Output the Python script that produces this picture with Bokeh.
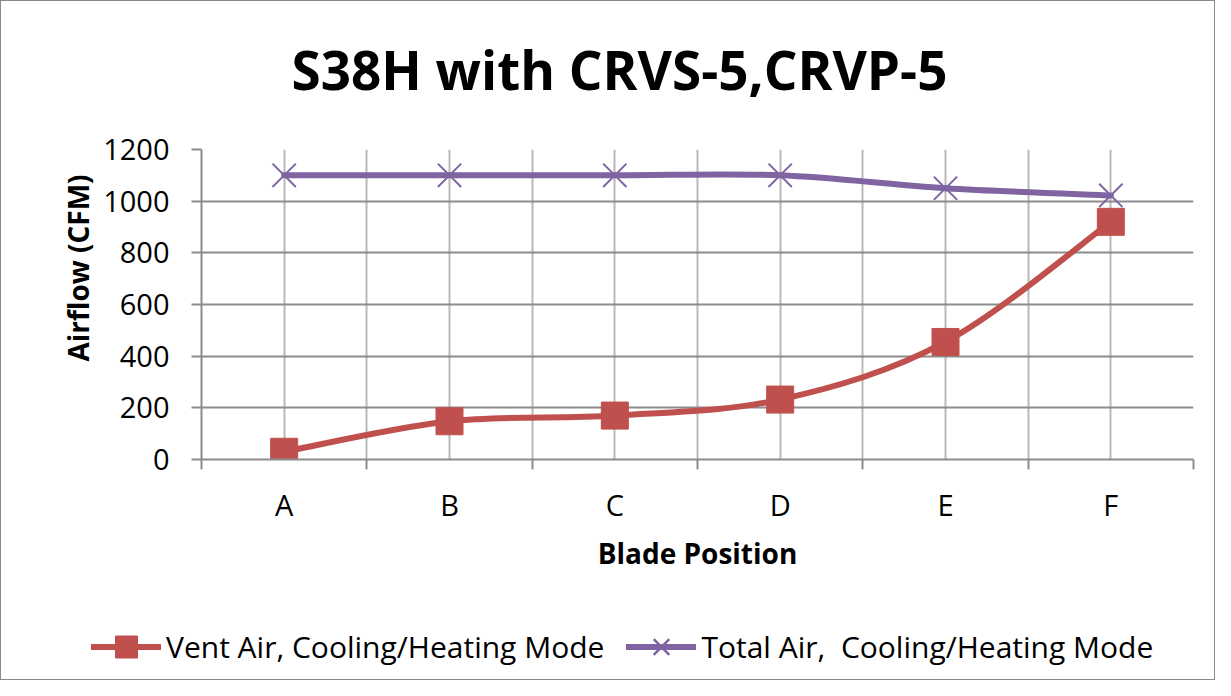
from bokeh.plotting import figure
from bokeh.layouts import column
from bokeh.models import FixedTicker, Title, Label, Legend, LegendItem, Range1d, ColumnDataSource
from bokeh.embed import file_html
from bokeh.resources import INLINE

# ---------------- data ----------------
categories = ["A", "B", "C", "D", "E", "F"]
vent_air = [30, 148, 170, 232, 455, 920]
total_air = [1100, 1100, 1100, 1100, 1050, 1022]
y_ticks = [0, 200, 400, 600, 800, 1000, 1200]
title_text = "S38H with CRVS-5,CRVP-5"
x_title = "Blade Position"
y_title = "Airflow (CFM)"
vent_name = "Vent Air, Cooling/Heating Mode"
total_name = "Total Air,  Cooling/Heating Mode"

FONT = "Open Sans"
RED = "#C0504D"
PURPLE = "#8064A2"
W = 1213
H_TOP, H_MAIN, H_LEG = 110, 490, 78

positions = [i + 1 for i in range(len(categories))]
boundaries = [i + 0.5 for i in range(len(categories) + 1)]


def smooth_segments(xs, ys):
    """Bezier segments (Excel-like smoothing) through the data points."""
    n = len(xs)
    seg = {k: [] for k in ("x0", "y0", "x1", "y1", "cx0", "cy0", "cx1", "cy1")}
    for i in range(n - 1):
        im, ip = max(i - 1, 0), min(i + 2, n - 1)
        seg["x0"].append(xs[i]); seg["y0"].append(ys[i])
        seg["x1"].append(xs[i + 1]); seg["y1"].append(ys[i + 1])
        seg["cx0"].append(xs[i] + (xs[i + 1] - xs[im]) / 6.0)
        seg["cy0"].append(ys[i] + (ys[i + 1] - ys[im]) / 6.0)
        seg["cx1"].append(xs[i + 1] - (xs[ip] - xs[i]) / 6.0)
        seg["cy1"].append(ys[i + 1] - (ys[ip] - ys[i]) / 6.0)
    return ColumnDataSource(seg)


def blank_fig(h):
    # frame covers the whole strip; ranges chosen so the series lie outside it
    f = figure(width=W, height=h, output_backend="svg", toolbar_location=None,
               x_range=Range1d(-2, -1), y_range=Range1d(-2, -1),
               x_axis_location=None, y_axis_location=None,
               min_border_left=0, min_border_right=0, min_border_top=0,
               min_border_bottom=0)
    f.frame_align = False
    f.grid.visible = False
    f.outline_line_color = None
    f.background_fill_color = "white"
    f.border_fill_color = "white"
    return f


# ---------------- title strip ----------------
top = blank_fig(H_TOP)
top.add_layout(Label(x=290, y=H_TOP - 68, x_units="screen", y_units="screen",
                     text=title_text, text_font=FONT, text_font_size="53px",
                     text_font_style="bold", text_align="left",
                     text_baseline="alphabetic", text_color="black"))

# ---------------- main plot ----------------
p = figure(width=W, height=H_MAIN, output_backend="svg", toolbar_location=None,
           x_range=Range1d(0.5, len(categories) + 0.5), y_range=Range1d(0, 1200),
           min_border_left=200, min_border_right=21, min_border_top=148 - H_TOP,
           min_border_bottom=H_TOP + H_MAIN - 458)
p.frame_align = False
p.outline_line_color = None
p.background_fill_color = "white"
p.border_fill_color = "white"

p.xgrid.ticker = FixedTicker(ticks=sorted(positions + boundaries))
p.xgrid.grid_line_color = "#b8b8b8"
p.xgrid.grid_line_width = 2
p.ygrid.ticker = FixedTicker(ticks=y_ticks)
p.ygrid.grid_line_color = "#8c8c8c"
p.ygrid.grid_line_width = 2

xa = p.xaxis[0]
xa.ticker = FixedTicker(ticks=positions, minor_ticks=boundaries)
xa.major_label_overrides = {pos: c for pos, c in zip(positions, categories)}
xa.major_tick_out = 0
xa.major_tick_in = 0
xa.minor_tick_out = 10
xa.minor_tick_in = 0
xa.minor_tick_line_color = "#8c8c8c"
xa.minor_tick_line_width = 2
xa.axis_line_color = "#8c8c8c"
xa.axis_line_width = 2
xa.major_label_standoff = 15
xa.major_label_text_font = FONT
xa.major_label_text_font_size = "29px"
xa.major_label_text_color = "black"
xa.axis_label = x_title
xa.axis_label_standoff = 7
xa.axis_label_text_font = FONT
xa.axis_label_text_font_size = "28px"
xa.axis_label_text_font_style = "bold"
xa.axis_label_text_color = "black"

ya = p.yaxis[0]
ya.ticker = FixedTicker(ticks=y_ticks)
ya.major_tick_out = 10
ya.major_tick_in = 0
ya.minor_tick_out = 0
ya.minor_tick_in = 0
ya.major_tick_line_color = "#8c8c8c"
ya.major_tick_line_width = 2
ya.axis_line_color = "#8c8c8c"
ya.axis_line_width = 2
ya.major_label_standoff = 22
ya.major_label_text_font = FONT
ya.major_label_text_font_size = "29px"
ya.major_label_text_color = "black"

p.add_layout(Title(text=y_title, align="left", offset=98, standoff=6,
                   vertical_align="middle", text_font=FONT, text_font_size="28px",
                   text_font_style="bold", text_color="black"), "left")

p.bezier(x0="x0", y0="y0", x1="x1", y1="y1", cx0="cx0", cy0="cy0",
         cx1="cx1", cy1="cy1", source=smooth_segments(positions, vent_air),
         line_color=RED, line_width=6, line_cap="round")
p.scatter(positions, vent_air, marker="square", size=27,
          fill_color=RED, line_color=RED, line_width=1)
p.bezier(x0="x0", y0="y0", x1="x1", y1="y1", cx0="cx0", cy0="cy0",
         cx1="cx1", cy1="cy1", source=smooth_segments(positions, total_air),
         line_color=PURPLE, line_width=6, line_cap="round")
p.scatter(positions, total_air, marker="x", size=33,
          line_color=PURPLE, line_width=2)

# ---------------- legend strip ----------------
leg = blank_fig(H_LEG)
lv = leg.line(positions, vent_air, line_color=RED, line_width=6, line_cap="round")
mv = leg.scatter(positions, vent_air, marker="square", fill_color=RED, line_color=RED)
lt = leg.line(positions, total_air, line_color=PURPLE, line_width=6, line_cap="round")
mt = leg.scatter(positions, total_air, marker="x", line_color=PURPLE, line_width=2.5)
legend = Legend(items=[LegendItem(label=vent_name, renderers=[lv, mv]),
                       LegendItem(label=total_name, renderers=[lt, mt])],
                orientation="horizontal", location=(90, 5),
                glyph_width=70, glyph_height=55, label_standoff=5, spacing=22,
                padding=0, margin=0, border_line_color=None, background_fill_alpha=0,
                label_text_font=FONT, label_text_font_size="30px",
                label_text_color="black")
leg.add_layout(legend)

layout = column(top, p, leg, spacing=0, styles={"border": "1px solid #8a8a8a"})

open("out.html", "w").write(file_html(layout, INLINE))
